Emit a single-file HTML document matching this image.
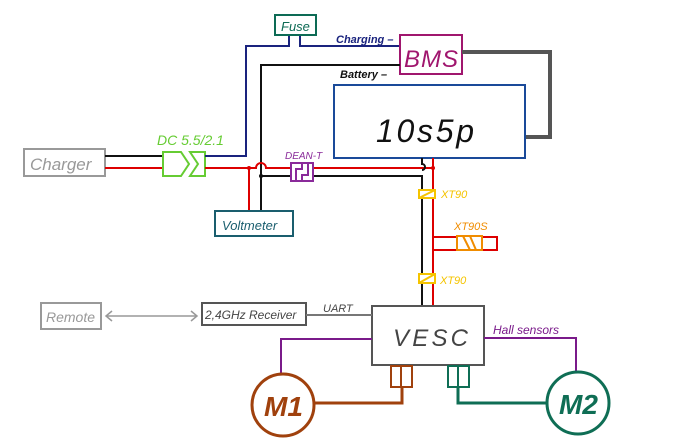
<!DOCTYPE html>
<html><head><style>body{margin:0;background:#fff}svg{display:block}
text{font-family:"Liberation Sans",sans-serif;font-style:italic}</style></head><body>
<svg width="690" height="446" viewBox="0 0 690 446" xmlns="http://www.w3.org/2000/svg" fill="none">
<rect x="24" y="149" width="81" height="27" stroke="#999" stroke-width="2"/>
<text x="30" y="170" font-size="17" fill="#999" stroke="none">Charger</text>
<line x1="105" y1="156" x2="163" y2="156" stroke="#111" stroke-width="2"/>
<line x1="105" y1="168" x2="163" y2="168" stroke="#d00" stroke-width="2"/>
<path d="M163 152 H181 L189 164 L181 176 H163 Z" stroke="#6c3" stroke-width="2"/>
<path d="M190 152 H205 V176 H190 L198 164 Z" stroke="#6c3" stroke-width="2"/>
<text x="157" y="145" font-size="14" fill="#6c3" stroke="none" font-style="normal">DC 5.5/2.1</text>
<path d="M205 156 H246 V46 H289 V36" stroke="#1a237e" stroke-width="2"/>
<path d="M300 36 V46 H400" stroke="#1a237e" stroke-width="2"/>
<rect x="275" y="15" width="41" height="20" stroke="#0d6b55" stroke-width="2"/>
<text x="281" y="31" font-size="13" fill="#0d6b55" stroke="none">Fuse</text>
<text x="336" y="43" font-size="11" fill="#1a237e" stroke="none" font-weight="bold">Charging –</text>
<rect x="400" y="35" width="62" height="39" stroke="#a0166e" stroke-width="2"/>
<text x="404" y="67" font-size="24" fill="#a0166e" stroke="none" font-style="normal" textLength="54">BMS</text>
<path d="M462 52 H550 V137 H525" stroke="#555" stroke-width="4"/>
<path d="M400 65 H261 V215" stroke="#111" stroke-width="2"/>
<text x="340" y="78" font-size="11" fill="#111" stroke="none" font-weight="bold">Battery –</text>
<rect x="334" y="85" width="191" height="73" stroke="#1a4a99" stroke-width="2"/>
<text x="376" y="142" font-size="32" fill="#111" stroke="none" font-style="normal" textLength="98">10s5p</text>
<path d="M205 168 H256 A5 5 0 0 1 266 168 H433" stroke="#d00" stroke-width="2"/>
<circle cx="249" cy="168" r="2" fill="#d00"/>
<line x1="249" y1="168" x2="249" y2="211" stroke="#d00" stroke-width="2"/>
<line x1="433" y1="158" x2="433" y2="306" stroke="#d00" stroke-width="2"/>
<circle cx="433" cy="168" r="2" fill="#d00"/>
<path d="M261 176 H422 V306" stroke="#111" stroke-width="2"/>
<circle cx="261" cy="176" r="2" fill="#111"/>
<path d="M422 158 V164 A3 3 0 0 1 422 170" stroke="#111" stroke-width="2"/>
<rect x="291" y="163" width="22" height="18" fill="#fff" stroke="#8a2a9a" stroke-width="2"/>
<path d="M296 181 V169 H302 V163 M308 163 V175 H302 V181" stroke="#8a2a9a" stroke-width="2"/>
<text x="285" y="159" font-size="10" fill="#8a2a9a" stroke="none" font-style="normal">DEAN-T</text>
<rect x="215" y="211" width="78" height="25" fill="#fff" stroke="#1a5e6e" stroke-width="2"/>
<text x="222" y="230" font-size="13" fill="#1a5e6e" stroke="none">Voltmeter</text>
<rect x="419" y="190" width="16" height="8" fill="#fff" stroke="#f5c400" stroke-width="2"/>
<line x1="419" y1="198" x2="435" y2="190" stroke="#f5c400" stroke-width="2"/>
<text x="441" y="198" font-size="11" fill="#f5c400" stroke="none" font-style="normal">XT90</text>
<path d="M433 237 H497 V250 H433" stroke="#d00" stroke-width="2"/>
<rect x="457" y="236" width="25" height="14" fill="#fff" stroke="#f08c00" stroke-width="2"/>
<path d="M463 236 L470 250 M470 236 L476 250" stroke="#f08c00" stroke-width="2"/>
<text x="454" y="230" font-size="11" fill="#f08c00" stroke="none" font-style="normal">XT90S</text>
<rect x="419" y="274" width="16" height="9" fill="#fff" stroke="#f5c400" stroke-width="2"/>
<line x1="419" y1="283" x2="435" y2="274" stroke="#f5c400" stroke-width="2"/>
<text x="440" y="284" font-size="11" fill="#f5c400" stroke="none" font-style="normal">XT90</text>
<rect x="372" y="306" width="112" height="59" stroke="#555" stroke-width="2"/>
<text x="393" y="346" font-size="24" fill="#444" stroke="none" textLength="75">VESC</text>
<rect x="202" y="303" width="104" height="22" stroke="#555" stroke-width="2"/>
<text x="205" y="319" font-size="12" fill="#444" stroke="none" font-style="normal">2,4GHz Receiver</text>
<line x1="306" y1="315" x2="372" y2="315" stroke="#777" stroke-width="2"/>
<text x="323" y="312" font-size="11" fill="#444" stroke="none">UART</text>
<rect x="41" y="303" width="60" height="26" stroke="#999" stroke-width="2"/>
<text x="46" y="322" font-size="14" fill="#999" stroke="none">Remote</text>
<path d="M106 316 H197 M112 311 L106 316 L112 321 M191 311 L197 316 L191 321" stroke="#999" stroke-width="1.5"/>
<path d="M372 339 H281 V373" stroke="#7a1a8a" stroke-width="2"/>
<path d="M484 338 H576 V372" stroke="#7a1a8a" stroke-width="2"/>
<text x="493" y="334" font-size="12" fill="#7a1a8a" stroke="none">Hall sensors</text>
<circle cx="283" cy="405" r="31" stroke="#a0410d" stroke-width="3"/>
<text x="264" y="416" font-size="28" fill="#a0410d" stroke="none" font-style="normal" font-weight="bold">M1</text>
<circle cx="578" cy="403" r="31" stroke="#0f6e55" stroke-width="3"/>
<text x="559" y="414" font-size="28" fill="#0f6e55" stroke="none" font-style="normal" font-weight="bold">M2</text>
<rect x="391" y="366" width="10" height="21" stroke="#a0410d" stroke-width="2"/>
<rect x="401" y="366" width="11" height="21" stroke="#a0410d" stroke-width="2"/>
<path d="M402 387 V403 H314" stroke="#a0410d" stroke-width="3"/>
<rect x="448" y="366" width="10" height="21" stroke="#0f6e55" stroke-width="2"/>
<rect x="458" y="366" width="11" height="21" stroke="#0f6e55" stroke-width="2"/>
<path d="M458 387 V403 H547" stroke="#0f6e55" stroke-width="3"/>
</svg>
</body></html>
